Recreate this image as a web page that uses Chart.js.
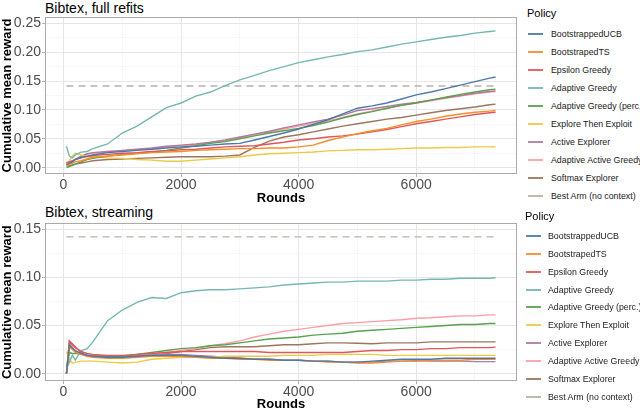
<!DOCTYPE html>
<html><head><meta charset="utf-8">
<script src="https://cdn.jsdelivr.net/npm/chart.js@4.4.1/dist/chart.umd.min.js"></script>
<style>
html,body{margin:0;padding:0;background:#fff;width:640px;height:408px;overflow:hidden;font-family:"Liberation Sans",Arial,sans-serif;}
canvas{position:absolute;left:0;}
.ttl{position:absolute;left:45px;font-size:14px;line-height:14px;color:#000;white-space:nowrap;}
.pol{position:absolute;font-size:11px;line-height:11px;color:#000;}
.item{position:absolute;height:12px;display:flex;align-items:center;font-size:8.8px;color:#1a1a1a;white-space:nowrap;}
.key{display:inline-block;width:15px;height:2px;opacity:0.9;}
</style></head><body>
<div class="ttl" style="top:0.6px">Bibtex, full refits</div>
<div class="ttl" style="top:205px">Bibtex, streaming</div>
<canvas id="c1" width="520" height="206" style="top:0"></canvas>
<canvas id="c2" width="520" height="208" style="top:200px"></canvas>
<div id="leg"></div>
<script>
const rounds = [50,100,150,200,300,400,500,750,1000,1250,1500,1750,2000,2250,2500,2750,3000,3250,3500,3750,4000,4250,4500,4750,5000,5250,5500,5750,6000,6250,6500,6750,7000,7250,7350];
const seriesNames = ['BootstrappedUCB','BootstrapedTS','Epsilon Greedy','Adaptive Greedy','Adaptive Greedy (perc.)','Explore Then Exploit','Active Explorer','Adaptive Active Greedy','Softmax Explorer','Best Arm (no context)'];
const seriesColors = ['#4e79a7','#f28e2b','#e15759','#76b7b2','#59a14f','#edc948','#b07aa1','#ff9da7','#9c755f','#bab0ac'];

// Panel 1: full refits
const topUCB = [0.005,0.008,0.010,0.014,0.018,0.020,0.022, 0.026,0.028,0.030,0.032,0.034,0.036,0.037,0.039,0.041,0.042, 0.048,0.054,0.060,0.067, 0.075,0.083,0.093,0.103, 0.107,0.112,0.119,0.126, 0.131,0.137,0.143,0.149,0.155, 0.157];
const topTS = [0.003,0.006,0.008,0.010,0.012,0.015,0.018, 0.020,0.022,0.024,0.026,0.027,0.028,0.030,0.031,0.032,0.033, 0.033,0.034,0.034,0.036, 0.039,0.047,0.053,0.059, 0.064,0.068,0.074,0.080, 0.084,0.089,0.093,0.096,0.098, 0.099];
const topEps = [0.008,0.010,0.012,0.014,0.017,0.019,0.021, 0.023,0.025,0.026,0.028,0.029,0.031,0.032,0.034,0.036,0.037, 0.038,0.041,0.044,0.048, 0.050,0.053,0.055,0.058, 0.062,0.066,0.071,0.076, 0.080,0.084,0.088,0.092,0.095, 0.096];
const topAG = [0.037,0.020,0.017,0.022,0.027,0.028,0.033, 0.041,0.060,0.072,0.088,0.104,0.112,0.124,0.131,0.142,0.152, 0.160,0.168,0.175,0.182, 0.187,0.192,0.196,0.201, 0.204,0.209,0.214,0.218, 0.222,0.226,0.229,0.233,0.236, 0.237];
const topAGP = [0.000,0.002,0.004,0.006,0.010,0.014,0.016, 0.020,0.023,0.025,0.027,0.030,0.034,0.038,0.042,0.045,0.050, 0.055,0.060,0.064,0.068, 0.073,0.079,0.086,0.092, 0.097,0.103,0.108,0.112, 0.117,0.122,0.127,0.131,0.135, 0.136];
const topETE = [0.007,0.012,0.020,0.025,0.022,0.019,0.019, 0.017,0.016,0.014,0.013,0.011,0.011,0.013,0.015,0.017,0.019, 0.022,0.024,0.025,0.026, 0.027,0.029,0.030,0.031, 0.031,0.032,0.033,0.034, 0.034,0.035,0.035,0.036,0.036, 0.036];
const topAE = [0.010,0.008,0.010,0.014,0.020,0.024,0.026, 0.028,0.030,0.032,0.034,0.037,0.039,0.041,0.044,0.048,0.053, 0.058,0.063,0.069,0.074, 0.079,0.084,0.091,0.099, 0.102,0.106,0.110,0.113, 0.117,0.121,0.125,0.129,0.132, 0.133];
const topAAG = [0.006,0.008,0.011,0.015,0.020,0.023,0.025, 0.027,0.029,0.031,0.033,0.036,0.038,0.040,0.043,0.047,0.052, 0.057,0.062,0.067,0.072, 0.076,0.081,0.087,0.093, 0.098,0.103,0.108,0.112, 0.116,0.120,0.124,0.128,0.131, 0.132];
const topSM = [0.003,0.003,0.005,0.006,0.008,0.010,0.012, 0.014,0.015,0.016,0.017,0.018,0.019,0.019,0.019,0.020,0.022, 0.035,0.046,0.053,0.057, 0.062,0.067,0.072,0.076, 0.080,0.084,0.087,0.091, 0.095,0.099,0.102,0.105,0.109, 0.110];
const bestArmRounds = [50,7350];
const topBest = [0.1415,0.1415];

// Panel 2: streaming
const botUCB = [0.000,0.030,0.027,0.024,0.021,0.019,0.018, 0.017,0.017,0.018,0.019,0.019,0.019,0.018,0.017,0.016,0.016, 0.015,0.015,0.014,0.014, 0.013,0.013,0.012,0.012, 0.013,0.014,0.015,0.015, 0.015,0.016,0.016,0.016,0.016, 0.016];
const botTS = [0.000,0.028,0.025,0.022,0.020,0.018,0.017, 0.016,0.016,0.017,0.018,0.018,0.018,0.017,0.016,0.016,0.015, 0.015,0.014,0.014,0.014, 0.013,0.012,0.012,0.011, 0.011,0.012,0.013,0.013, 0.014,0.014,0.014,0.015,0.015, 0.015];
const botEps = [0.000,0.033,0.030,0.027,0.023,0.021,0.020, 0.019,0.019,0.020,0.021,0.022,0.023,0.023,0.023,0.023,0.023, 0.023,0.022,0.022,0.022, 0.022,0.022,0.022,0.023, 0.024,0.024,0.025,0.025, 0.026,0.026,0.027,0.027,0.027, 0.0275];
const botAG = [0.005,0.012,0.019,0.014,0.024,0.026,0.033, 0.055,0.066,0.074,0.079,0.078,0.084,0.086,0.087,0.087,0.088, 0.089,0.090,0.092,0.093, 0.094,0.095,0.095,0.096, 0.096,0.096,0.097,0.097, 0.098,0.098,0.099,0.099,0.099, 0.0995];
const botAGP = [0.000,0.022,0.021,0.021,0.020,0.019,0.018, 0.018,0.018,0.020,0.022,0.024,0.026,0.027,0.029,0.030,0.032, 0.034,0.036,0.037,0.038, 0.040,0.041,0.042,0.044, 0.045,0.046,0.047,0.048, 0.049,0.050,0.051,0.051,0.052, 0.052];
const botETE = [0.023,0.015,0.011,0.012,0.013,0.013,0.013, 0.012,0.011,0.012,0.015,0.016,0.017,0.017,0.017,0.018,0.018, 0.018,0.018,0.019,0.019, 0.019,0.020,0.020,0.020, 0.020,0.019,0.019,0.019, 0.019,0.019,0.019,0.019,0.019, 0.019];
const botAE = [0.000,0.029,0.026,0.023,0.021,0.019,0.018, 0.017,0.017,0.018,0.019,0.020,0.020,0.019,0.018,0.017,0.016, 0.015,0.015,0.014,0.014, 0.013,0.013,0.012,0.012, 0.012,0.013,0.013,0.0135, 0.013,0.013,0.013,0.0125,0.0125, 0.0125];
const botAAG = [0.000,0.031,0.029,0.027,0.023,0.020,0.019, 0.018,0.018,0.019,0.020,0.022,0.024,0.026,0.029,0.031,0.034, 0.038,0.041,0.044,0.046, 0.048,0.050,0.052,0.053, 0.054,0.055,0.056,0.0575, 0.058,0.059,0.060,0.060,0.061, 0.061];
const botSM = [0.000,0.034,0.031,0.028,0.022,0.019,0.018, 0.018,0.0175,0.018,0.020,0.021,0.023,0.025,0.027,0.028,0.028, 0.028,0.029,0.030,0.030, 0.031,0.032,0.032,0.0315, 0.031,0.032,0.032,0.032, 0.033,0.033,0.033,0.033,0.033, 0.033];
const botBest = [0.142,0.142];

const xTicks = [0,1000,2000,3000,4000,5000,6000,7000];
const yTicksTop = [0,0.025,0.05,0.075,0.1,0.125,0.15,0.175,0.2,0.225,0.25];
const yTicksBot = [0,0.025,0.05,0.075,0.1,0.125,0.15];

Chart.defaults.font.family = '"Liberation Sans", Arial, sans-serif';

function pts(xs, ys){ return xs.map((x,i)=>({x:x, y:ys[i]})); }

function makeDatasets(arrs, best){
  const ds = arrs.map((a,i)=>({
    label: seriesNames[i], data: pts(rounds,a), borderColor: seriesColors[i],
    borderWidth: 1.4, pointRadius: 0, tension: 0, fill: false
  }));
  ds.push({label: seriesNames[9], data: pts(bestArmRounds,best), borderColor: seriesColors[9],
    borderWidth: 1.3, borderDash:[7,5], pointRadius:0, fill:false});
  return ds;
}

const frame = {
  id:'frame',
  afterDraw(chart){
    const a = chart.chartArea, c = chart.ctx;
    c.save(); c.strokeStyle = '#aaaaaa'; c.lineWidth = 1;
    c.strokeRect(Math.round(a.left)+0.5, Math.round(a.top)+0.5, Math.round(a.right-a.left)-1, Math.round(a.bottom-a.top)-1);
    c.restore();
  }
};

function isMajorX(v){ return v % 2000 === 0; }
function isMajorY(v){ return Math.abs(Math.round(v/0.05)*0.05 - v) < 1e-6; }

function makeChart(id, datasets, yMin, yMax, yTicks, padTop, xH, titlePadBottom){
  return new Chart(document.getElementById(id), {
    type:'line',
    data:{datasets},
    plugins:[frame],
    options:{
      responsive:false, animation:false, maintainAspectRatio:false,
      layout:{padding:{top:padTop, right:3, left:0, bottom:0}},
      plugins:{legend:{display:false}, tooltip:{enabled:false}},
      scales:{
        x:{type:'linear', min:-315, max:7715,
          afterBuildTicks(s){ s.ticks = xTicks.map(v=>({value:v})); },
          afterFit(s){ s.height = xH; },
          border:{display:false},
          grid:{ color:c=>isMajorX(c.tick.value)?'#e6e6e6':'#f3f3f3', lineWidth:c=>isMajorX(c.tick.value)?1:0.6,
                 tickLength:3, tickColor:c=>isMajorX(c.tick.value)?'#b3b3b3':'rgba(0,0,0,0)', drawTicks:true},
          ticks:{ autoSkip:false, maxRotation:0, padding:0, color:'#4d4d4d', font:{size:14},
                  callback:v=>isMajorX(v)?String(v):'' },
          title:{display:true, text:'Rounds', color:'#000', font:{size:13, weight:'bold'}, padding:{top:0,bottom:titlePadBottom}}
        },
        y:{type:'linear', min:yMin, max:yMax,
          afterBuildTicks(s){ s.ticks = yTicks.map(v=>({value:v})); },
          afterFit(s){ s.width = 45; },
          border:{display:false},
          grid:{ color:c=>isMajorY(c.tick.value)?'#e6e6e6':'#f3f3f3', lineWidth:c=>isMajorY(c.tick.value)?1:0.6,
                 tickLength:3, tickColor:c=>isMajorY(c.tick.value)?'#b3b3b3':'rgba(0,0,0,0)'},
          ticks:{ autoSkip:false, padding:1, color:'#4d4d4d', font:{size:14},
                  callback:v=>isMajorY(v)?v.toFixed(2):'' },
          title:{display:true, text:'Cumulative mean reward', color:'#000', font:{size:13, weight:'bold'}, padding:{top:0,bottom:0}}
        }
      }
    }
  });
}

makeChart('c1', makeDatasets([topUCB,topTS,topEps,topAG,topAGP,topETE,topAE,topAAG,topSM], topBest), -0.011, 0.261, yTicksTop, 17, 32, 0);
makeChart('c2', makeDatasets([botUCB,botTS,botEps,botAG,botAGP,botETE,botAE,botAAG,botSM], botBest), -0.0076, 0.156, yTicksBot, 23.3, 27, -4);

// Legends
const leg = document.getElementById('leg');
function addLegend(titleTop, titleLeft, y0, dy, keyLeft, textLeft){
  const t = document.createElement('div'); t.className='pol'; t.textContent='Policy';
  t.style.top = titleTop+'px'; t.style.left = titleLeft+'px'; leg.appendChild(t);
  seriesNames.forEach((n,i)=>{
    const k = document.createElement('div'); k.className='item';
    k.style.top = Math.round(y0 + dy*i - 6)+'px'; k.style.left = keyLeft+'px';
    const sw = document.createElement('span'); sw.className='key'; sw.style.background = seriesColors[i];
    sw.style.marginRight = (textLeft-keyLeft-15)+'px';
    k.appendChild(sw); k.appendChild(document.createTextNode(n)); leg.appendChild(k);
  });
}
addLegend(8, 527, 34.3, 18, 528, 551);
addLegend(210.7, 525, 236, 17.85, 526, 548);
</script>
</body></html>
